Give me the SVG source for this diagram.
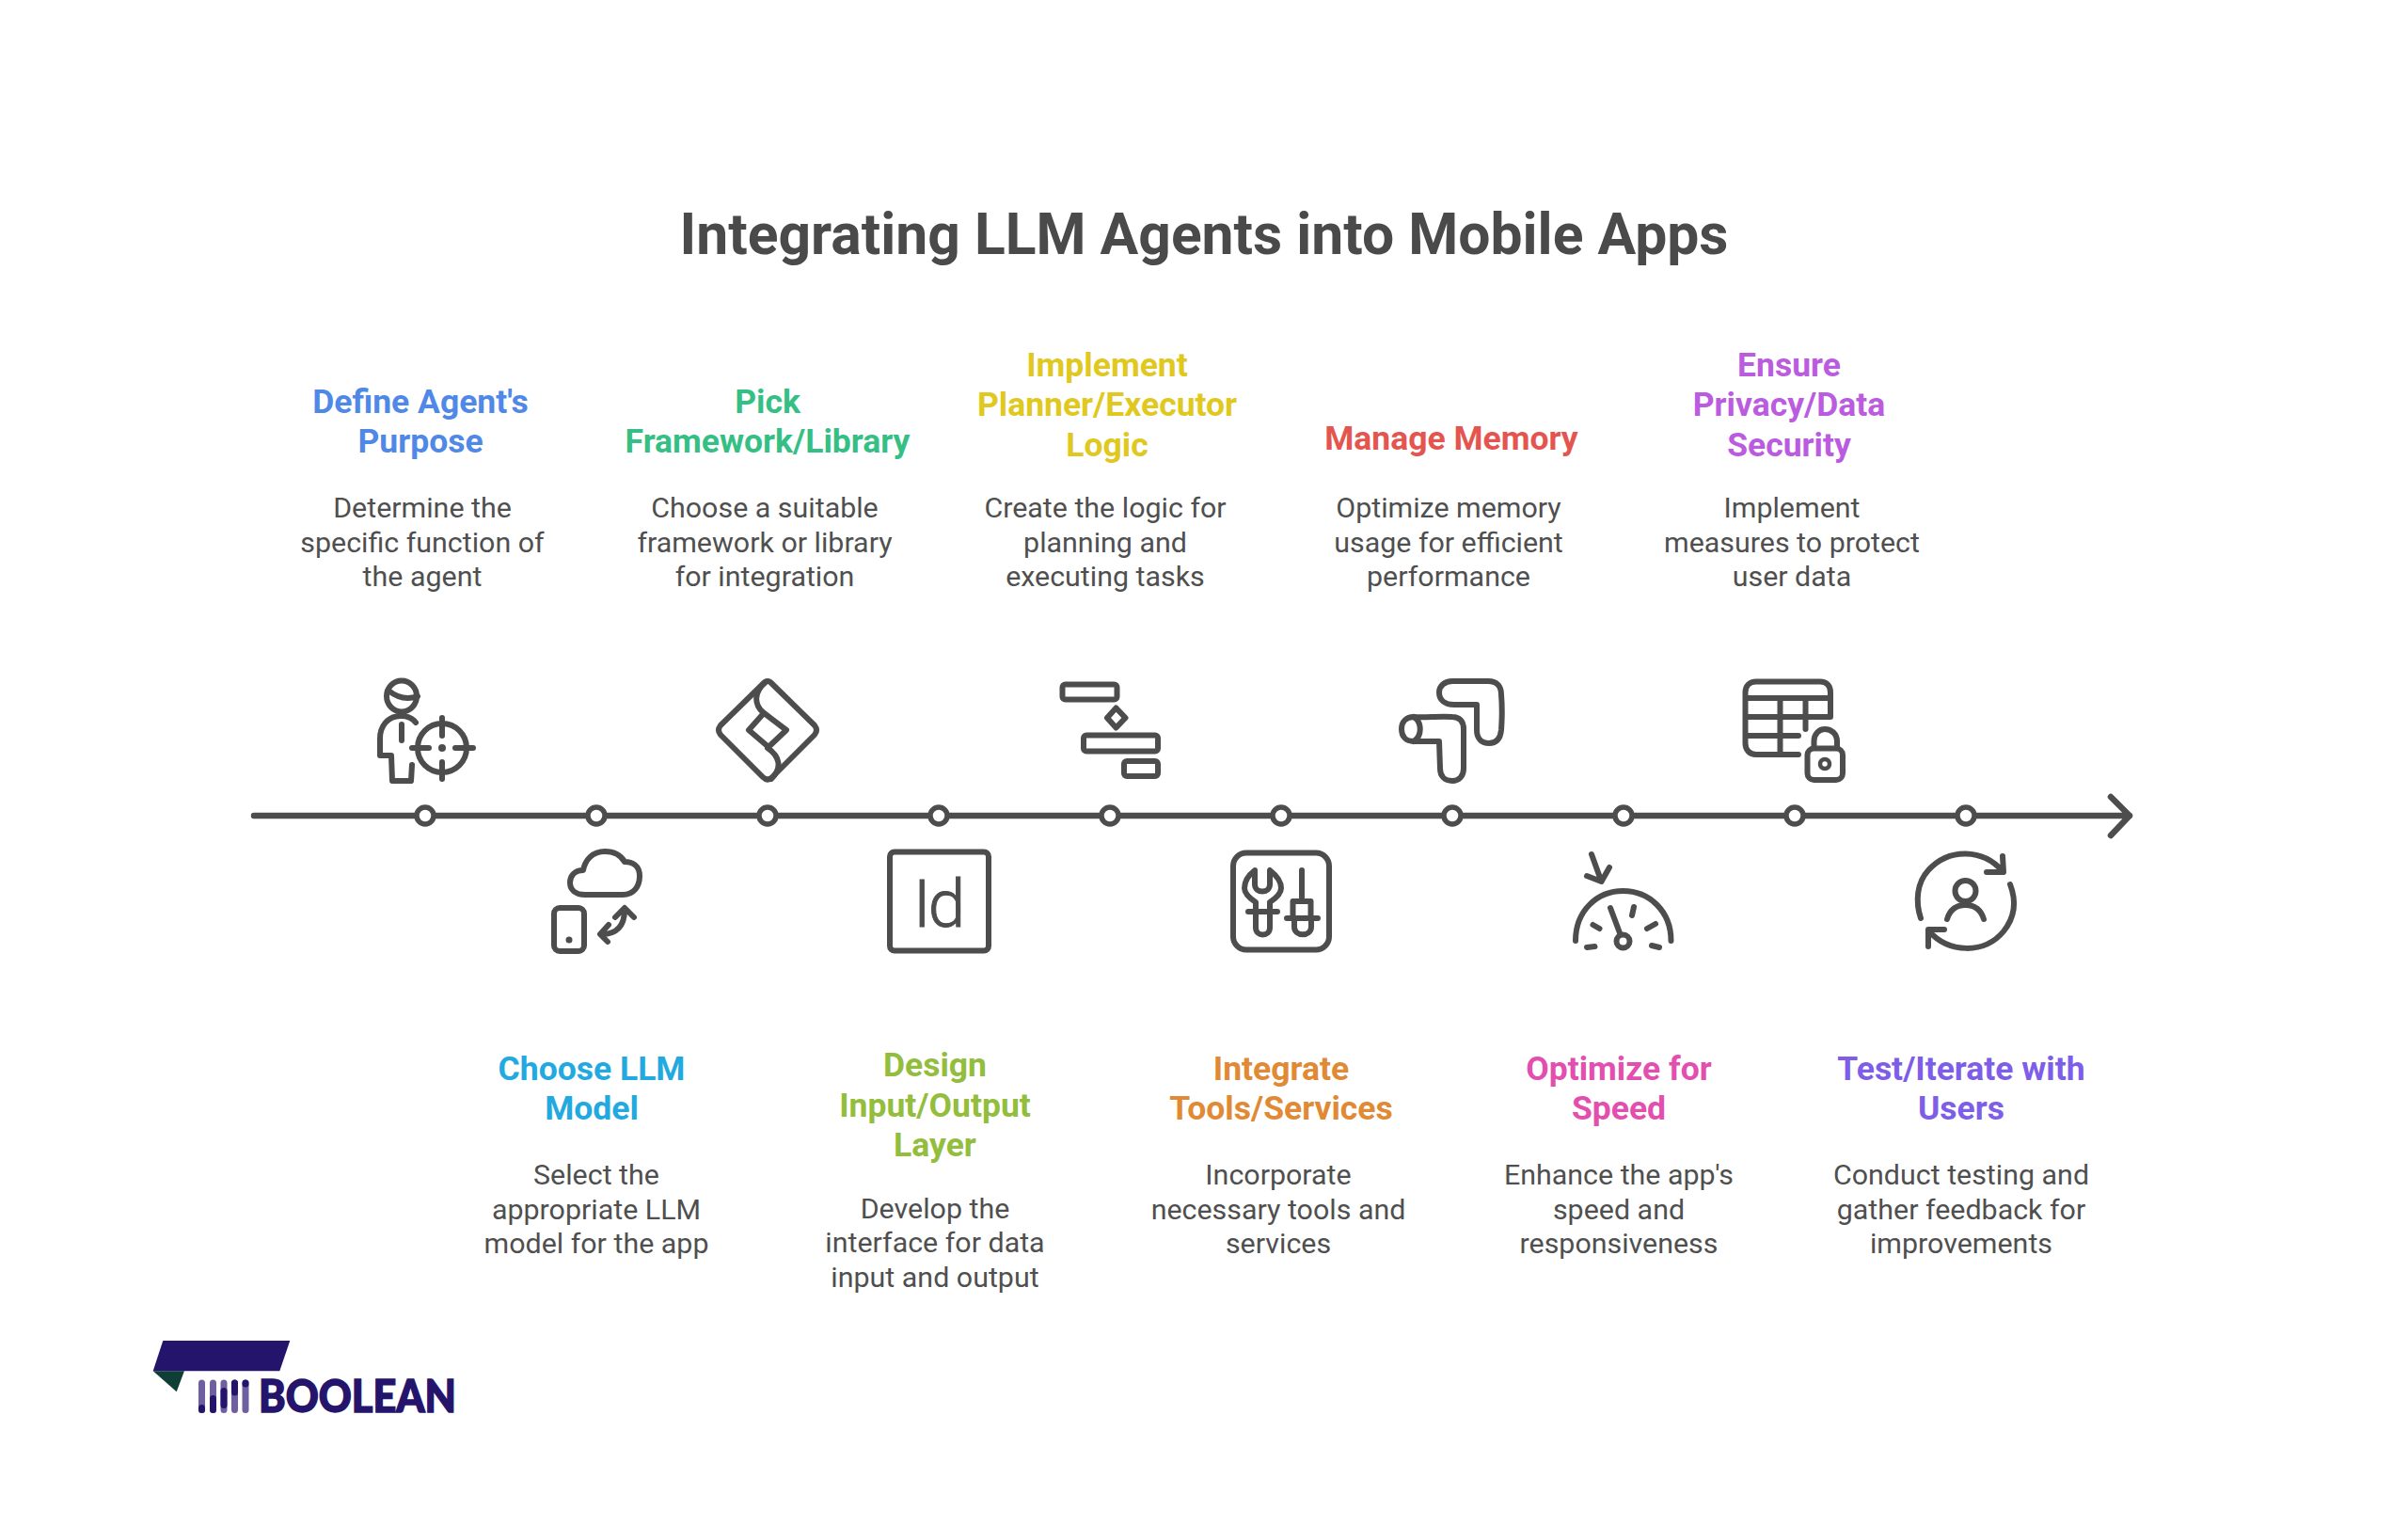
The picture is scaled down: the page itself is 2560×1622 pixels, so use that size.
<svg xmlns="http://www.w3.org/2000/svg" width="2560" height="1622" viewBox="0 0 2560 1622">
<style>
text{font-family:Roboto,"Liberation Sans",sans-serif;text-anchor:middle}
.t{font-size:60.600px;font-weight:700;fill:#4a4a4a}
.h{font-size:35.500px;font-weight:700}
.d{font-size:30.400px;font-weight:400;fill:#4f4f4f}
.i{fill:none;stroke:#4d4d4d;stroke-width:6;stroke-linecap:round;stroke-linejoin:round}
.f{fill:#4d4d4d;stroke:none}
.p{fill:#fff;stroke:#4d4d4d;stroke-width:5.500}
.l{fill:none;stroke:#4d4d4d;stroke-width:6.500;stroke-linecap:round;stroke-linejoin:round}
</style>
<rect width="2560" height="1622" fill="#fff"/>
<text id="title" class="t" x="1280" y="270">Integrating LLM Agents into Mobile Apps</text>
<g id="connectors"><path class="l" d="M270 867H2264M2244 847L2264 867L2244 888"/></g>

<g id="node-1"><circle class="p" cx="452" cy="867" r="9"/>
<g class="i"><ellipse cx="427" cy="740" rx="16" ry="16.500"/><path d="M413 734Q428 746 444 740"/><path d="M442 768Q437 761 426 761C412 761 404 772 404 785V803H416L417 830H437L438 813M427 770V787"/><circle cx="470" cy="795" r="26"/><path d="M470 763V782M470 810V828M438 795H456M484 795H503"/></g><circle class="f" cx="470" cy="795" r="4"/>
<text class="h" x="447" y="438.500" fill="#5088e8">Define Agent's</text><text class="h" x="447" y="481" fill="#5088e8">Purpose</text>
<text class="d" x="449" y="550">Determine the</text><text class="d" x="449" y="587">specific function of</text><text class="d" x="449" y="623">the agent</text></g>

<g id="node-2"><circle class="p" cx="634" cy="867" r="9"/>
<g class="i"><path d="M622 951H662C674 951 680 942 680 931C680 920 672 916 664 916C660 909 653 905 643 905C630 905 622 914 620 925C610 925 606 932 606 938C606 946 612 951 622 951Z"/><rect x="589" y="965" width="32" height="46" rx="6"/><path d="M664 967C664 985 655 993 640 993M654 975L664 965L674 975M647 983L638 993L646 1001"/></g><circle class="f" cx="605" cy="999" r="3.500"/>
<text class="h" x="629" y="1147.500" fill="#22a9e0">Choose LLM</text><text class="h" x="629" y="1189.500" fill="#22a9e0">Model</text>
<text class="d" x="634" y="1259">Select the</text><text class="d" x="634" y="1296">appropriate LLM</text><text class="d" x="634" y="1332">model for the app</text></g>

<g id="node-3"><circle class="p" cx="816" cy="867" r="9"/>
<g class="i"><path d="M811 727Q816 721 821 727L866 771Q870 776 866 781L821 826Q816 831 811 826L766 781Q762 776 766 771Z"/><path d="M814 725C802 735 801 748 811 757L836 776L817 794L796 776L812 758M816 795C829 804 832 816 820 828"/></g>
<text class="h" x="816" y="438.500" fill="#36bf85">Pick</text><text class="h" x="816" y="481" fill="#36bf85">Framework/Library</text>
<text class="d" x="813" y="550">Choose a suitable</text><text class="d" x="813" y="587">framework or library</text><text class="d" x="813" y="623">for integration</text></g>

<g id="node-4"><circle class="p" cx="998" cy="867" r="9"/>
<rect class="i" x="946" y="905.500" width="105" height="105" rx="5"/>
<text x="997" y="985" font-size="71" font-weight="300" fill="#4d4d4d" stroke="#4d4d4d" stroke-width="1" letter-spacing="-3">Id</text>
<text class="h" x="994" y="1144" fill="#93bd3c">Design</text><text class="h" x="994" y="1186.500" fill="#93bd3c">Input/Output</text><text class="h" x="994" y="1229" fill="#93bd3c">Layer</text>
<text class="d" x="994" y="1295">Develop the</text><text class="d" x="994" y="1331">interface for data</text><text class="d" x="994" y="1368">input and output</text></g>

<g id="node-5"><circle class="p" cx="1180" cy="867" r="9"/>
<g class="i"><rect x="1129.500" y="727.500" width="58" height="16" rx="3"/><path d="M1186.500 752.500L1196.500 763L1186.500 773.500L1177 763Z"/><rect x="1152" y="781.500" width="79" height="17" rx="3"/><rect x="1195" y="809" width="36" height="16" rx="3"/></g>
<text class="h" x="1177" y="399.500" fill="#e0c81e">Implement</text><text class="h" x="1177" y="442" fill="#e0c81e">Planner/Executor</text><text class="h" x="1177" y="484.500" fill="#e0c81e">Logic</text>
<text class="d" x="1175" y="550">Create the logic for</text><text class="d" x="1175" y="587">planning and</text><text class="d" x="1175" y="623">executing tasks</text></g>

<g id="node-6"><circle class="p" cx="1362" cy="867" r="9"/>
<g class="i"><rect x="1311" y="906.500" width="102" height="103" rx="14"/><path d="M1334 925C1325 932 1323 938 1323 944C1323 950 1329 955 1335 959V986C1335 996 1350 996 1350 986V959C1356 955 1362 950 1362 944C1362 938 1359 932 1350 925V940C1350 950 1334 950 1334 940ZM1327 969H1358M1384 925V958M1374.500 976V958H1393.500V976M1368 976H1401M1376 976V985C1376 996 1394 996 1394 985V976"/></g>
<text class="h" x="1362" y="1147.500" fill="#e08a35">Integrate</text><text class="h" x="1362" y="1189.500" fill="#e08a35">Tools/Services</text>
<text class="d" x="1359" y="1259">Incorporate</text><text class="d" x="1359" y="1296">necessary tools and</text><text class="d" x="1359" y="1332">services</text></g>

<g id="node-7"><circle class="p" cx="1544" cy="867" r="9"/>
<g class="i"><path d="M1544 724H1582C1592 724 1596 730 1596 738C1597 750 1597 762 1596 776C1595 786 1590 790 1583 790C1576 790 1570 786 1570 776L1570 749H1546C1536 749 1530 744 1530 736C1530 729 1536 724 1544 724Z"/><path d="M1503 762C1515 763 1530 761 1544 762C1552 762 1556 767 1556 775V817C1556 825 1551 830 1544 830C1536 830 1531 825 1531 817L1530 788H1503C1495 788 1490 783 1490 775C1490 767 1495 762 1503 762Z"/><path d="M1503 762C1512 768 1512 782 1503 788"/></g>
<text class="h" x="1543" y="478" fill="#e5554f">Manage Memory</text>
<text class="d" x="1540" y="550">Optimize memory</text><text class="d" x="1540" y="587">usage for efficient</text><text class="d" x="1540" y="623">performance</text></g>

<g id="node-8"><circle class="p" cx="1726" cy="867" r="9"/>
<g class="i"><path d="M1692 908L1702.500 937M1687 931L1702.500 937L1711 922M1675 1000C1675 968 1698 947 1725.500 947C1753 947 1776.500 968 1776.500 1000M1712 965L1722.500 993M1737 964L1735 973M1751 987L1760 982M1756 1005L1764 1007M1693.500 983L1700.500 987M1687 1007L1695.500 1006"/><circle cx="1725.500" cy="1000.500" r="7"/></g>
<text class="h" x="1721" y="1147.500" fill="#e24fae">Optimize for</text><text class="h" x="1721" y="1189.500" fill="#e24fae">Speed</text>
<text class="d" x="1721" y="1259">Enhance the app's</text><text class="d" x="1721" y="1296">speed and</text><text class="d" x="1721" y="1332">responsiveness</text></g>

<g id="node-9"><circle class="p" cx="1908" cy="867" r="9"/>
<g class="i"><path d="M1912 802H1867C1860 802 1855.500 797 1855.500 790V736C1855.500 729 1860 724.500 1867 724.500H1935C1942 724.500 1946 729 1946 736V762M1855.500 742H1946M1855.500 762H1946M1855.500 782H1912M1892.500 742V802M1919.500 742V775"/><rect x="1921.500" y="795.500" width="37.500" height="33.500" rx="7"/><path d="M1928.500 795V788C1928.500 780 1934 775 1940 775C1947 775 1953 780 1953 788V795"/><circle cx="1940" cy="812" r="5" style="stroke-width:4.500"/></g>
<text class="h" x="1902" y="399.500" fill="#bb5ce0">Ensure</text><text class="h" x="1902" y="442" fill="#bb5ce0">Privacy/Data</text><text class="h" x="1902" y="484.500" fill="#bb5ce0">Security</text>
<text class="d" x="1905" y="550">Implement</text><text class="d" x="1905" y="587">measures to protect</text><text class="d" x="1905" y="623">user data</text></g>

<g id="node-10"><circle class="p" cx="2090" cy="867" r="9"/>
<g class="i"><path d="M2042 976C2036 958 2038 938 2050 925C2072 901 2108 902 2129 926M2129 910L2130 927L2112 927M2137 940C2144 958 2142 975 2130 990C2110 1014 2072 1014 2050 989M2050 1006L2050 988L2067 988"/><circle cx="2089.500" cy="947" r="11"/><path d="M2070 977C2073 967 2080 962 2089.500 962C2099 962 2106 967 2109 977"/></g>
<text class="h" x="2085" y="1147.500" fill="#7e5ee8">Test/Iterate with</text><text class="h" x="2085" y="1189.500" fill="#7e5ee8">Users</text>
<text class="d" x="2085" y="1259">Conduct testing and</text><text class="d" x="2085" y="1296">gather feedback for</text><text class="d" x="2085" y="1332">improvements</text></g>

<g id="logo">
<path fill="#0f3e36" d="M162.700 1457.300H196L187.700 1479.300Z"/>
<path fill="#25146b" d="M173.300 1425H308.300L297.300 1457.300H162.700Z"/>
<g fill="#6f5fa0"><rect x="211" y="1466.500" width="7" height="35.500" rx="3.500"/><rect x="223" y="1466.500" width="7" height="35.500" rx="3.500"/><rect x="234.500" y="1466.500" width="7" height="35.500" rx="3.500"/><rect x="246" y="1466.500" width="7" height="35.500" rx="3.500"/><rect x="257.500" y="1466.500" width="7" height="35.500" rx="3.500"/></g>
<g fill="#25146b"><rect x="211" y="1493" width="7" height="9" rx="3.500"/><rect x="223" y="1483" width="7" height="19" rx="3.500"/><rect x="234.500" y="1475" width="7" height="22" rx="3.500"/><rect x="246" y="1466.500" width="7" height="17" rx="3.500"/><rect x="257.500" y="1466.500" width="7" height="8" rx="3.500"/></g>
<text x="380" y="1500.500" font-size="48" font-weight="900" fill="#25146b" stroke="#25146b" stroke-width="1.500" style="font-family:Lato,'Liberation Sans',sans-serif" textLength="210" lengthAdjust="spacingAndGlyphs">BOOLEAN</text>
</g>
</svg>
